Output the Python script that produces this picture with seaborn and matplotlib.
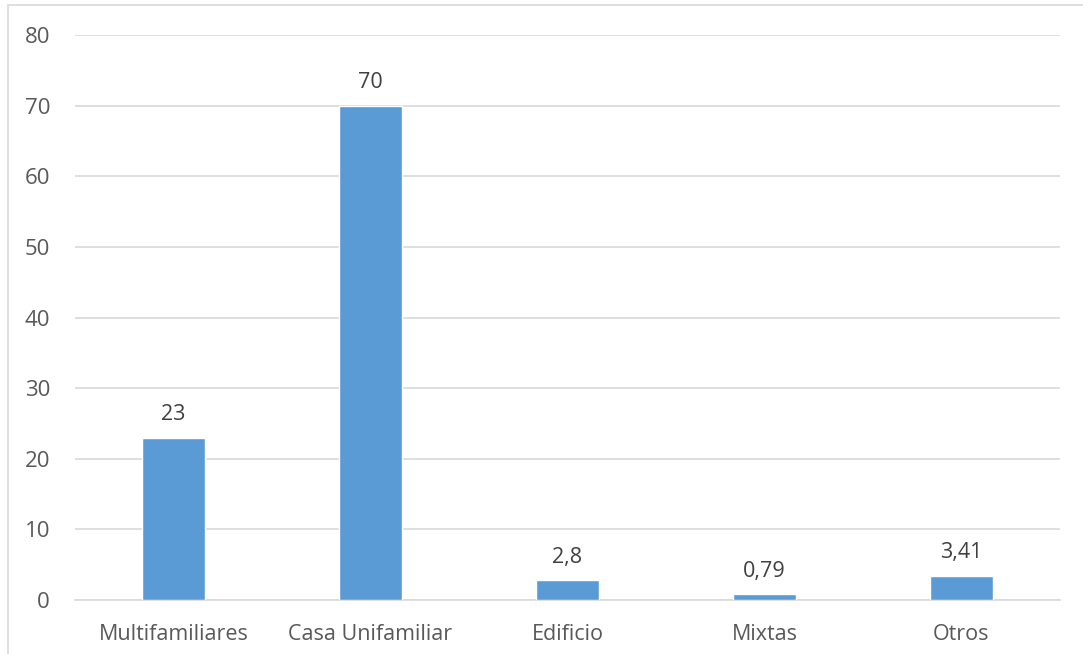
import matplotlib
matplotlib.use("Agg")
import matplotlib.pyplot as plt
import seaborn as sns
import pandas as pd
from matplotlib.patches import Rectangle

categories = ["Multifamiliares", "Casa Unifamiliar", "Edificio", "Mixtas", "Otros"]
values = [23, 70, 2.8, 0.79, 3.41]
value_labels = ["23", "70", "2,8", "0,79", "3,41"]
yticks = [0, 10, 20, 30, 40, 50, 60, 70, 80]

sns.set_theme(style="white")
plt.rcParams['font.family'] = ['Open Sans', 'DejaVu Sans']

df = pd.DataFrame({"cat": categories, "val": values})

fig = plt.figure(figsize=(10.83, 6.54), dpi=100)
ax = fig.add_axes([75/1083, 1-600/654, 985/1083, 565/654])

sns.barplot(data=df, x="cat", y="val", color="#5B9BD5", width=0.315,
            saturation=1, ax=ax, zorder=3)

ax.set_xlim(-0.5, 4.5)
ax.set_ylim(0, 80)
ax.set_yticks(yticks)
ax.set_yticklabels([str(t) for t in yticks])
ax.yaxis.grid(True, color="#d9d9d9", linewidth=1.2, zorder=0)
ax.set_axisbelow(True)
for s in ["top", "right", "left"]:
    ax.spines[s].set_visible(False)
ax.spines["bottom"].set_color("#d9d9d9")
ax.spines["bottom"].set_linewidth(1.2)
ax.tick_params(axis="both", length=0, colors="#595959")
ax.tick_params(axis="y", pad=18, labelsize=16)
ax.tick_params(axis="x", pad=17, labelsize=15.5)
ax.set_xlabel("")
ax.set_ylabel("")

for i, (v, lab) in enumerate(zip(values, value_labels)):
    ax.annotate(lab, xy=(i, v), xytext=(0, 9), textcoords="offset points",
                ha="center", va="bottom", fontsize=15.5, color="#404040")

fig.patches.append(Rectangle((8/1083, -0.01), 1.0, 1-5/654+0.01, transform=fig.transFigure,
                             fill=False, edgecolor="#d9d9d9", linewidth=1.2))

fig.savefig("out.png", dpi=100)
